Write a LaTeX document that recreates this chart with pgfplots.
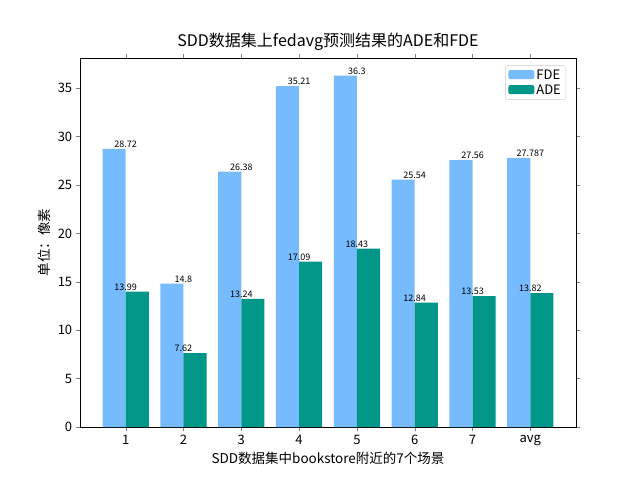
\documentclass[border=0pt]{standalone}
\usepackage{fontspec}
\setmainfont{Noto Sans CJK SC}
\usepackage{pgfplots}
\pgfplotsset{compat=1.18}
\definecolor{fde}{HTML}{77BBFF}
\definecolor{ade}{HTML}{009688}
\begin{document}
\begin{tikzpicture}[x=1pt,y=1pt]
\path[use as bounding box] (0,0) rectangle (640,480);
\begin{axis}[at={(80pt,53pt)},anchor=south west,scale only axis,
 width=496pt,height=369pt,
 xmin=-0.79,xmax=7.79,ymin=0,ymax=38.115,
 xtick={0,...,7},xticklabels={1,2,3,4,5,6,7,avg},
 ytick={0,5,...,35},
 /pgf/number format/assume math mode=true,
 tick label style={font=\fontsize{13}{13}\selectfont},
 tick align=outside,
 title={SDD数据集上fedavg预测结果的ADE和FDE},
 title style={font=\fontsize{16}{16}\selectfont,yshift=-2pt},
 xlabel={SDD数据集中bookstore附近的7个场景},
 ylabel={单位：像素},
 label style={font=\fontsize{13.5}{13.5}\selectfont},
 legend style={at={(0.98,0.98)},anchor=north east,font=\fontsize{13}{13}\selectfont,draw=gray!40,rounded corners=2pt},
 legend cell align=left,
 legend image code/.code={\fill[#1] (0pt,-4pt) rectangle (26pt,5pt);},
 point meta=explicit symbolic,
 nodes near coords={\pgfplotspointmeta},
 every node near coord/.append style={font=\fontsize{9}{9}\selectfont,inner sep=1pt,black},
]
\addplot[ybar,bar width=0.4,bar shift=-0.2,fill=fde,draw=none] coordinates {
(0,28.72)[28.72] (1,14.8)[14.8] (2,26.38)[26.38] (3,35.21)[35.21]
(4,36.3)[36.3] (5,25.54)[25.54] (6,27.56)[27.56] (7,27.787)[27.787]};
\addlegendentry{FDE}
\addplot[ybar,bar width=0.4,bar shift=0.2,fill=ade,draw=none] coordinates {
(0,13.99)[13.99] (1,7.62)[7.62] (2,13.24)[13.24] (3,17.09)[17.09]
(4,18.43)[18.43] (5,12.84)[12.84] (6,13.53)[13.53] (7,13.82)[13.82]};
\addlegendentry{ADE}
\end{axis}
\end{tikzpicture}
\end{document}
